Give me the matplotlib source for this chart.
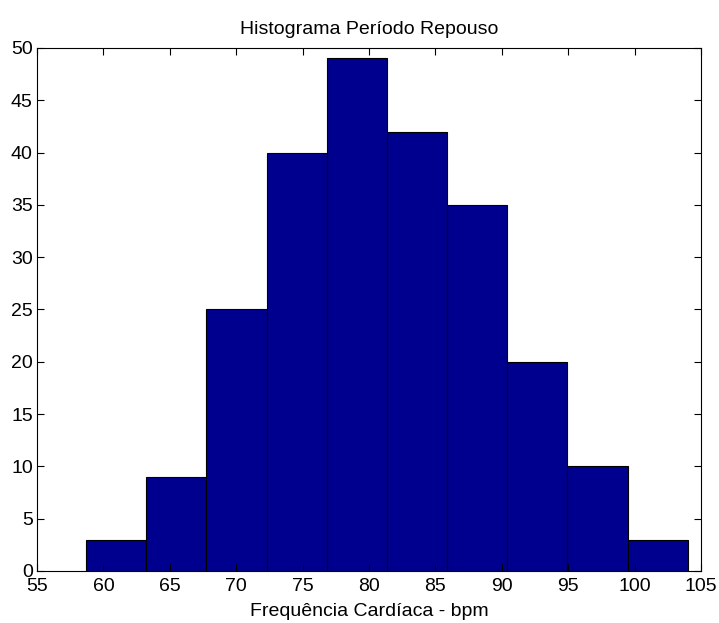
import matplotlib
matplotlib.use('Agg')
import matplotlib.pyplot as plt

plt.rcParams['font.family'] = ['Liberation Sans', 'DejaVu Sans']

bordas = [58.7, 63.23, 67.76, 72.29, 76.82, 81.35, 85.88, 90.41, 94.94, 99.47, 104.0]
contagens = [3, 9, 25, 40, 49, 42, 35, 20, 10, 3]

fig = plt.figure(figsize=(7.19, 6.23), dpi=100)
ax = fig.add_axes([0.0515, 0.0835, 0.9235, 0.8395])

larguras = [bordas[i + 1] - bordas[i] for i in range(len(contagens))]
ax.bar(bordas[:-1], contagens, width=larguras, align='edge',
       color='#00008F', edgecolor='black', linewidth=0.8)

ax.set_xlim(55, 105)
ax.set_ylim(0, 50)
ax.set_xticks(range(55, 106, 5))
ax.set_yticks(range(0, 51, 5))
ax.tick_params(direction='in', top=True, right=True, labelsize=14, length=5)
ax.tick_params(axis='y', pad=3)
ax.tick_params(axis='x', pad=5)
for s in ax.spines.values():
    s.set_linewidth(0.8)

ax.set_title("Histograma Período Repouso", fontsize=14, pad=10)
ax.set_xlabel("Frequência Cardíaca - bpm", fontsize=14, labelpad=6)

fig.savefig('out.png', dpi=100)
